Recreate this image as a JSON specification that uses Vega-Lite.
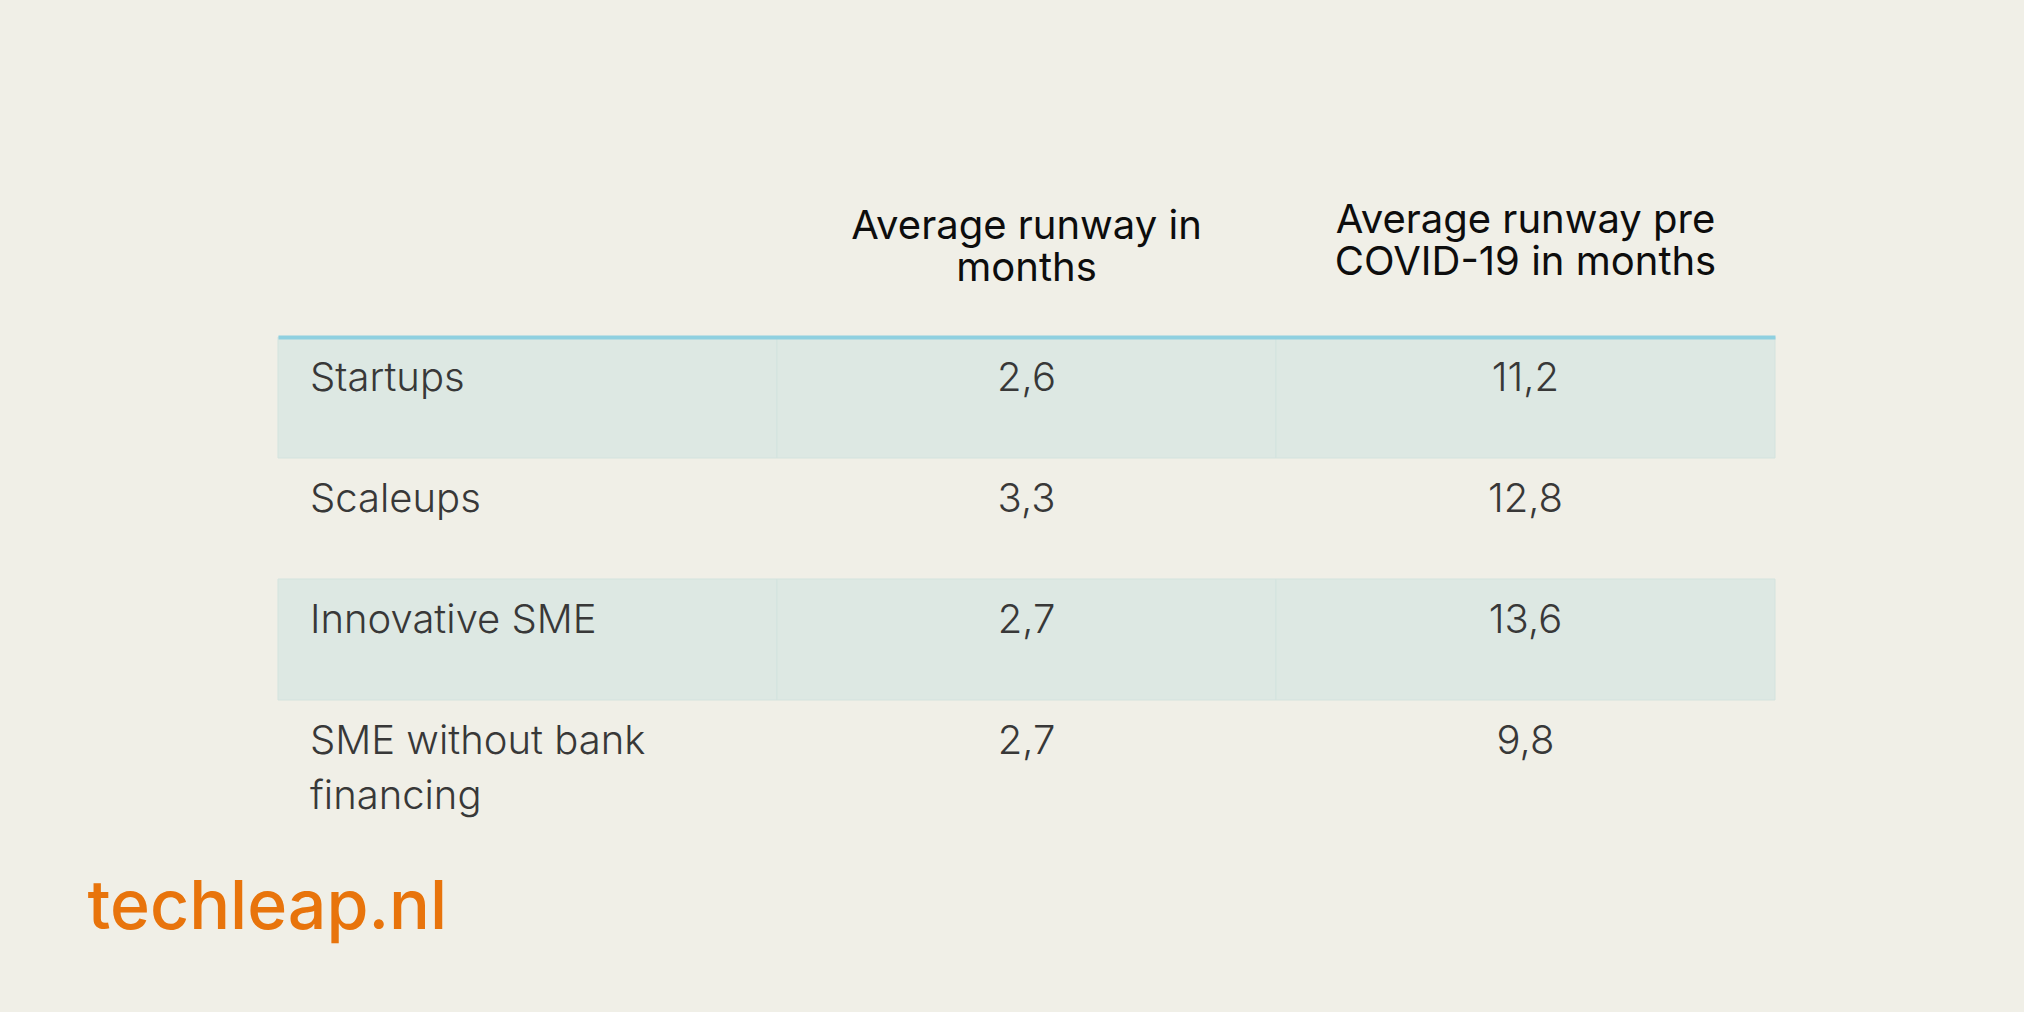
{
  "$schema": "https://vega.github.io/schema/vega-lite/v6.json",
  "width": 1497,
  "height": 484,
  "autosize": {"type": "none"},
  "padding": {"left": 278, "top": 337, "right": 249, "bottom": 191},
  "background": "#f0efe7",
  "config": {"view": {"stroke": null}, "font": "Inter"},
  "title": {
    "text": "techleap.nl",
    "orient": "bottom",
    "anchor": "start",
    "dx": -190,
    "offset": 108,
    "baseline": "alphabetic",
    "color": "#e8740c",
    "fontSize": 68,
    "fontWeight": 500,
    "font": "Inter"
  },
  "data": {
    "values": [
      {"group": "Startups", "column": "Segment", "text": "Startups"},
      {"group": "Startups", "column": "Average runway in months", "text": "2,6"},
      {"group": "Startups", "column": "Average runway pre COVID-19 in months", "text": "11,2"},
      {"group": "Scaleups", "column": "Segment", "text": "Scaleups"},
      {"group": "Scaleups", "column": "Average runway in months", "text": "3,3"},
      {"group": "Scaleups", "column": "Average runway pre COVID-19 in months", "text": "12,8"},
      {"group": "Innovative SME", "column": "Segment", "text": "Innovative SME"},
      {"group": "Innovative SME", "column": "Average runway in months", "text": "2,7"},
      {"group": "Innovative SME", "column": "Average runway pre COVID-19 in months", "text": "13,6"},
      {"group": "SME without bank financing", "column": "Segment", "text": "SME without bank\nfinancing"},
      {"group": "SME without bank financing", "column": "Average runway in months", "text": "2,7"},
      {"group": "SME without bank financing", "column": "Average runway pre COVID-19 in months", "text": "9,8"}
    ]
  },
  "layer": [
    {
      "transform": [{"filter": {"field": "group", "oneOf": ["Startups", "Innovative SME"]}}],
      "mark": {"type": "rect", "fill": "#dde8e3", "stroke": "#d3e3de", "strokeWidth": 1},
      "encoding": {
        "x": {
          "field": "column",
          "type": "nominal",
          "scale": {"domain": ["Segment", "Average runway in months", "Average runway pre COVID-19 in months"], "paddingInner": 0, "paddingOuter": 0},
          "axis": {
            "orient": "top",
            "title": null,
            "ticks": false,
            "domain": true,
            "domainColor": "#8fd0e0",
            "domainWidth": 4,
            "labelFont": "Inter",
            "labelFontSize": 40,
            "labelColor": "#0d0d0d",
            "labelBaseline": "alphabetic",
            "labelLineHeight": 42,
            "labelPadding": {"condition": {"test": "datum.value == 'Average runway pre COVID-19 in months'", "value": 105}, "value": 99},
            "labelAngle": 0,
            "labelLimit": 0,
            "labelOverlap": false,
            "labelExpr": "datum.value == 'Average runway in months' ? ['Average runway in', 'months'] : datum.value == 'Average runway pre COVID-19 in months' ? ['Average runway pre', 'COVID-19 in months'] : ''",
            "zindex": 1
          }
        },
        "y": {
          "field": "group",
          "type": "nominal",
          "scale": {"domain": ["Startups", "Scaleups", "Innovative SME", "SME without bank financing"], "paddingInner": 0, "paddingOuter": 0},
          "axis": null
        }
      }
    },
    {
      "transform": [{"filter": "datum.column == 'Segment'"}],
      "mark": {"type": "text", "align": "left", "baseline": "alphabetic", "dx": 32, "dy": 54, "fontSize": 40, "fontWeight": 300, "color": "#383838", "lineBreak": "\n", "lineHeight": 55, "font": "Inter"},
      "encoding": {
        "x": {"field": "column", "type": "nominal", "bandPosition": 0},
        "y": {"field": "group", "type": "nominal", "bandPosition": 0},
        "text": {"field": "text"}
      }
    },
    {
      "transform": [{"filter": "datum.column != 'Segment'"}],
      "mark": {"type": "text", "align": "center", "baseline": "alphabetic", "dy": 54, "fontSize": 40, "fontWeight": 300, "color": "#383838", "font": "Inter"},
      "encoding": {
        "x": {"field": "column", "type": "nominal", "bandPosition": 0.5},
        "y": {"field": "group", "type": "nominal", "bandPosition": 0},
        "text": {"field": "text"}
      }
    }
  ]
}
